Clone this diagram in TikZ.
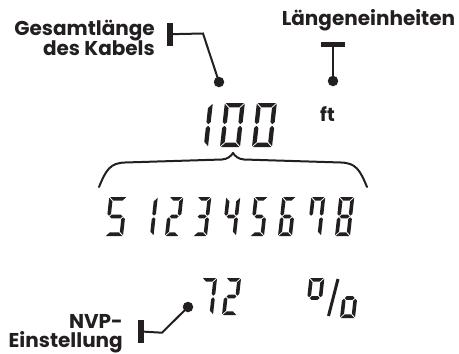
\documentclass[tikz,border=0pt]{standalone}
\usepackage{fontspec}
\setmainfont{Poppins}
\definecolor{ink}{HTML}{231F20}
\newcommand\segA{\fill (\sG,\sH) -- (\sW-\sG,\sH) -- (\sW-\sT-\sG,\sH-\sT) -- (\sT+\sG,\sH-\sT) -- cycle;}
\newcommand\segD{\fill (\sG,0) -- (\sW-\sG,0) -- (\sW-\sT-\sG,\sT) -- (\sT+\sG,\sT) -- cycle;}
\newcommand\segF{\fill (0,\sH-\sG) -- (\sT,\sH-\sT-\sG) -- (\sT,\sH/2+\sT/2+\sG) -- (\sT/2,\sH/2+\sG) -- (0,\sH/2+\sT/2+\sG) -- cycle;}
\newcommand\segE{\fill (0,\sG) -- (\sT,\sT+\sG) -- (\sT,\sH/2-\sT/2-\sG) -- (\sT/2,\sH/2-\sG) -- (0,\sH/2-\sT/2-\sG) -- cycle;}
\newcommand\segB{\fill (\sW,\sH-\sG) -- (\sW-\sT,\sH-\sT-\sG) -- (\sW-\sT,\sH/2+\sT/2+\sG) -- (\sW-\sT/2,\sH/2+\sG) -- (\sW,\sH/2+\sT/2+\sG) -- cycle;}
\newcommand\segC{\fill (\sW,\sG) -- (\sW-\sT,\sT+\sG) -- (\sW-\sT,\sH/2-\sT/2-\sG) -- (\sW-\sT/2,\sH/2-\sG) -- (\sW,\sH/2-\sT/2-\sG) -- cycle;}
\newcommand\segG{\fill (\sT/2+\sG,\sH/2) -- (\sT+\sG,\sH/2+\sT/2) -- (\sW-\sT-\sG,\sH/2+\sT/2) -- (\sW-\sT/2-\sG,\sH/2) -- (\sW-\sT-\sG,\sH/2-\sT/2) -- (\sT+\sG,\sH/2-\sT/2) -- cycle;}
% x of bottom-left, y of bottom (pixels, downwards), width, height, thickness, segments
\newcommand\lcd[6]{\begin{scope}[shift={(#1,-#2)},xslant=0.11]\def\sW{#3}\def\sH{#4}\def\sT{#5}\def\sG{0.8}\foreach \s in {#6}{\csname seg\s\endcsname}\end{scope}}
\tikzset{
  lbl/.style={font=\fontsize{20}{22}\selectfont\bfseries, inner sep=0pt, text=ink},
  bar/.style={fill=ink, inner sep=0pt, minimum width=5.5pt, minimum height=23pt},
  tbar/.style={fill=ink, inner sep=0pt, minimum width=24pt, minimum height=5pt},
  dot/.style={circle, fill=ink, inner sep=0pt, minimum size=10.5pt},
  conn/.style={draw=ink, line width=2pt},
}
\begin{document}
\begin{tikzpicture}[x=1pt,y=1pt]
\useasboundingbox (0,-354) rectangle (459,0);
% labels
\node[lbl, anchor=base east] (gl1) at (155,-35.7) {Gesamtlänge};
\node[lbl, anchor=base east] (gl2) at (155,-55.2) {des Kabels};
\node[lbl, anchor=base] (le) at (368.5,-25) {Längeneinheiten};
\node[lbl, anchor=base east] (nv1) at (123,-328.3) {NVP-};
\node[lbl, anchor=base east] (nv2) at (123,-347.2) {Einstellung};
\node[lbl, font=\fontsize{19}{20}\selectfont\bfseries, anchor=base] (ft) at (327.5,-121.5) {ft};
% pointers
\node[bar] (b1) at (169.8,-34.2) {};
\node[dot] (d1) at (219,-82) {};
\coordinate (k1) at (203,-33.5);
\draw[conn] (b1.center) -- (k1) -- (d1.center);
\node[tbar] (b2) at (333,-44.2) {};
\node[dot] (d2) at (333,-81) {};
\draw[conn] (b2.center) -- (d2.center);
\node[bar] (b3) at (141,-331.5) {};
\node[dot] (d3) at (188,-307) {};
\coordinate (k3) at (162,-332.7);
\draw[conn] (b3.center) -- (k3) -- (d3.center);
% brace
\draw[conn, line cap=round, line join=round] (99,-187) .. controls (106,-170) and (110,-163) .. (125,-162.5) -- (222,-159.5) .. controls (228,-159) and (231,-156) .. (233,-153) .. controls (235,-156) and (238,-159) .. (244,-159.5) -- (341,-162.5) .. controls (356,-163) and (360,-170) .. (367,-187);
% LCD digits
\begin{scope}[ink]
\lcd{188}{147}{20}{44}{4.3}{B,C}
\lcd{220}{147}{20}{44}{4.3}{A,B,C,D,E,F}
\lcd{252}{147}{20}{44}{4.3}{A,B,C,D,E,F}
\lcd{105}{236}{18}{39}{3.6}{A,F,G,C,D}
\lcd{139.5}{236}{14}{39}{3.6}{B,C}
\lcd{165}{236}{14}{39}{3.6}{A,B,G,E,D}
\lcd{193}{236}{14}{39}{3.6}{A,B,G,C,D}
\lcd{222}{236}{14}{39}{3.6}{F,G,B,C}
\lcd{250}{236}{14}{39}{3.6}{A,F,G,C,D}
\lcd{278}{236}{14}{39}{3.6}{A,F,G,E,C,D}
\lcd{307}{236}{14}{39}{3.6}{A,B,C,F}
\lcd{335}{236}{15}{39}{3.6}{A,B,C,D,E,F,G}
\lcd{198}{315}{15}{37}{3.6}{A,B,C}
\lcd{222}{315}{15}{37}{3.6}{A,B,G,E,D}
\lcd{305}{318}{15}{40}{3.6}{A,B,F,G}
\lcd{340}{318}{15}{40}{3.6}{G,C,D,E}
\end{scope}
\coordinate (s1) at (338,-279);
\coordinate (s2) at (328.5,-316);
\draw[draw=ink, line width=3pt] (s1) -- (s2);
\end{tikzpicture}
\end{document}
